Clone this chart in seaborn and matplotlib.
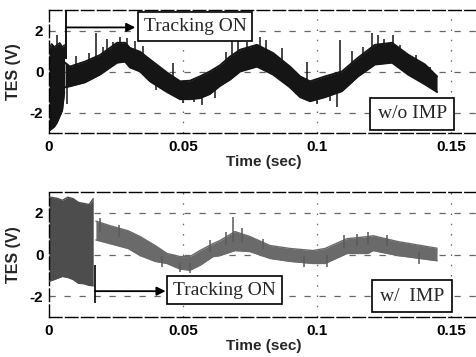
import numpy as np
import pandas as pd
import matplotlib
matplotlib.use("Agg")
import matplotlib.pyplot as plt
import seaborn as sns

# ---------------- data ----------------
# top panel: w/o IMP
top_burst_t = [0.0, 0.001, 0.002, 0.003, 0.004, 0.005, 0.0058]
top_burst_hi = [1.1, 1.35, 1.2, 1.3, 1.4, 1.2, 1.3]
top_burst_lo = [-2.9, -2.8, -2.7, -2.5, -2.2, -1.9, -1.0]

top_t = [0.0060, 0.0078, 0.0134, 0.0190, 0.0254, 0.0284, 0.0302, 0.0340, 0.0377,
         0.0440, 0.0489, 0.0526, 0.0563, 0.0600, 0.0638, 0.0675, 0.0713, 0.0776,
         0.0836, 0.0899, 0.0937, 0.0974, 0.1030, 0.1093, 0.1153, 0.1216, 0.1280,
         0.1340, 0.1403, 0.1448]
top_hi = [0.43, 0.24, 0.48, 0.80, 1.40, 1.40, 1.15, 0.96, 0.58,
          -0.05, -0.48, -0.45, -0.24, 0.00, 0.30, 0.72, 1.06, 1.30,
          0.90, 0.24, -0.24, -0.48, -0.24, 0.00, 0.67, 1.30, 1.40,
          0.82, 0.34, -0.24]
top_lo = [-0.77, -0.72, -0.53, -0.15, 0.43, 0.48, 0.20, 0.00, -0.48,
          -1.00, -1.35, -1.35, -1.30, -1.10, -0.70, -0.40, 0.00, 0.24,
          -0.15, -0.77, -1.25, -1.45, -1.25, -0.96, -0.24, 0.34, 0.43,
          -0.15, -0.63, -1.00]
top_spike_t = [0.0030, 0.0067, 0.0100, 0.0150, 0.0177, 0.0200, 0.0217, 0.0240,
               0.0265, 0.0290, 0.0320, 0.0350, 0.0400, 0.0462, 0.0500, 0.0540,
               0.0571, 0.0620, 0.0660, 0.0683, 0.0705, 0.0740, 0.0787, 0.0810,
               0.0870, 0.0920, 0.0963, 0.1000, 0.1050, 0.1075, 0.1086, 0.1130,
               0.1170, 0.1205, 0.1228, 0.1250, 0.1284, 0.1310, 0.1370, 0.1420]
top_spike_y = [1.80, -1.60, 0.75, 0.90, 1.90, 1.20, 1.60, 1.45,
               1.70, 1.65, 1.50, 1.25, -0.90, 0.40, -1.55, -1.50,
               -1.65, -1.30, 0.95, 1.50, 1.70, 1.45, 1.70, 1.55,
               1.15, -1.10, 0.45, -1.60, -1.45, -1.75, 1.55, 1.00,
               1.20, 1.90, 1.80, 1.60, 1.80, 1.30, 0.80, 0.20]

# bottom panel: w/ IMP
bot_burst_t = [0.0, 0.0030, 0.0050, 0.0070, 0.0090, 0.0110, 0.0130, 0.0150, 0.0165]
bot_burst_hi = [2.76, 2.70, 2.60, 2.75, 2.68, 2.50, 2.45, 2.40, 2.68]
bot_burst_lo = [-1.29, -1.15, -1.05, -1.10, -1.20, -1.38, -1.40, -1.48, -1.50]

bot_t = [0.0175, 0.0228, 0.0295, 0.0340, 0.0396, 0.0440, 0.0489, 0.0526, 0.0563,
         0.0612, 0.0638, 0.0694, 0.0750, 0.0825, 0.0899, 0.0985, 0.1030, 0.1112,
         0.1190, 0.1209, 0.1302, 0.1448]
bot_hi = [1.60, 1.38, 1.14, 0.86, 0.43, 0.05, -0.10, -0.10, 0.19,
          0.52, 0.67, 1.10, 0.86, 0.43, 0.29, 0.19, 0.29, 0.76,
          0.86, 0.90, 0.62, 0.30]
bot_lo = [0.70, 0.52, 0.29, -0.05, -0.33, -0.43, -0.70, -0.75, -0.52,
          -0.10, -0.05, 0.19, 0.14, -0.19, -0.33, -0.43, -0.43, 0.05,
          0.05, 0.19, -0.05, -0.30]
bot_spike_t = [0.0190, 0.0260, 0.0420, 0.0490, 0.0525, 0.0600, 0.0660, 0.0687,
               0.0720, 0.0800, 0.0950, 0.1038, 0.1100, 0.1150, 0.1190, 0.1260,
               0.1380]
bot_spike_y = [1.75, 1.40, -0.60, -0.85, -0.90, 0.70, 1.10, 1.80,
               1.25, 0.75, -0.60, -0.60, 0.95, 1.00, 1.10, 0.95,
               -0.45]

xticks = [0, 0.05, 0.1, 0.15]
xtick_labels = ["0", "0.05", "0.1", "0.15"]
yticks = [-2, 0, 2]
ytick_labels = ["-2", "0", "2"]

# ---------------- style ----------------
sns.set_theme(style="white")
plt.rcParams["font.family"] = ["Liberation Sans", "DejaVu Sans"]
plt.rcParams["font.weight"] = "bold"

fig = plt.figure(figsize=(4.76, 3.57), dpi=100)
W, H = 476.0, 357.0
axw = 0.16 * 2680 / W
ax1 = fig.add_axes([49 / W, 1 - 133 / H, axw, 123 / H])
ax2 = fig.add_axes([49 / W, 1 - 317 / H, axw, 125 / H])


def style_axes(ax):
    ax.set_xlim(0, 0.16)
    ax.set_ylim(-3, 3)
    ax.set_xticks(xticks)
    ax.set_xticklabels(xtick_labels)
    ax.set_yticks(yticks)
    ax.set_yticklabels(ytick_labels)
    for y in yticks:
        ax.axhline(y, color="#666666", lw=0.9, dashes=(5, 7), zorder=0)
    for x in xticks[1:]:
        ax.axvline(x, color="#666666", lw=0.9, dashes=(1.2, 7), zorder=0)
    for s in ["left", "top", "bottom"]:
        ax.spines[s].set_visible(True)
        ax.spines[s].set_color("black")
        ax.spines[s].set_linewidth(1.0)
        ax.spines[s].set_linestyle((0, (9, 2.5)))
    ax.spines["right"].set_visible(False)
    ax.tick_params(direction="in", length=3, width=0.8, color="black",
                   labelsize=11, labelcolor="black")
    ax.tick_params(axis="x", pad=5)
    ax.tick_params(axis="y", pad=4)
    for lab in ax.get_xticklabels() + ax.get_yticklabels():
        lab.set_fontweight("bold")
    ax.set_xlabel("Time (sec)", fontsize=11, fontweight="bold", labelpad=1)
    ax.set_ylabel("TES (V)", fontsize=11.5, fontweight="bold", labelpad=6)


def draw_band(ax, t, hi, lo, color, lw):
    df = pd.DataFrame({"t": t, "hi": hi, "lo": lo})
    ax.fill_between(df["t"], df["lo"], df["hi"], color=color, lw=0, zorder=2)
    sns.lineplot(data=df, x="t", y="hi", ax=ax, color=color, lw=lw, zorder=3)
    sns.lineplot(data=df, x="t", y="lo", ax=ax, color=color, lw=lw, zorder=3)


def draw_spikes(ax, t, hi, lo, st, sy, color):
    base = np.interp(st, t, (np.array(hi) + np.array(lo)) / 2)
    ax.vlines(st, base, sy, color=color, lw=1.1, zorder=3)


box_kw = dict(boxstyle="square,pad=0.3", fc="white", ec="black", lw=1.2)
serif = ["Liberation Serif", "DejaVu Serif"]

# top panel
style_axes(ax1)
draw_band(ax1, top_burst_t, top_burst_hi, top_burst_lo, "#151515", 1.0)
draw_band(ax1, top_t, top_hi, top_lo, "#151515", 1.4)
draw_spikes(ax1, top_t, top_hi, top_lo, top_spike_t, top_spike_y, "#151515")
ax1.vlines(0.0064, 0.6, 3, color="black", lw=1.3, zorder=4)
ax1.annotate("", xy=(0.0322, 2.15), xytext=(0.0064, 2.15),
             arrowprops=dict(arrowstyle="-|>", color="black", lw=1.3,
                             mutation_scale=13, shrinkA=0, shrinkB=0), zorder=4)
ax1.text(0.0545, 2.18, "Tracking ON", ha="center", va="center", fontsize=14,
         family=serif, fontweight="normal", bbox=box_kw, zorder=5)
ax1.text(0.1355, -2.07, "w/o IMP", ha="center", va="center", fontsize=14,
         family=serif, fontweight="normal",
         bbox=dict(box_kw, boxstyle="square,pad=0.4"), zorder=5)

# bottom panel
style_axes(ax2)
draw_band(ax2, bot_burst_t, bot_burst_hi, bot_burst_lo, "#4d4d4d", 1.0)
draw_band(ax2, bot_t, bot_hi, bot_lo, "#6a6a6a", 1.0)
draw_spikes(ax2, bot_t, bot_hi, bot_lo, bot_spike_t, bot_spike_y, "#5a5a5a")
ax2.vlines(0.0172, -2.35, -0.5, color="black", lw=1.2, zorder=4)
ax2.annotate("", xy=(0.0435, -1.76), xytext=(0.0172, -1.76),
             arrowprops=dict(arrowstyle="-|>", color="black", lw=1.3,
                             mutation_scale=13, shrinkA=0, shrinkB=0), zorder=4)
ax2.text(0.0655, -1.71, "Tracking ON", ha="center", va="center", fontsize=14,
         family=serif, fontweight="normal", bbox=box_kw, zorder=5)
ax2.text(0.1355, -2.0, "w/  IMP", ha="center", va="center", fontsize=14,
         family=serif, fontweight="normal",
         bbox=dict(box_kw, boxstyle="square,pad=0.4"), zorder=5)

fig.savefig("out.png", dpi=100)
